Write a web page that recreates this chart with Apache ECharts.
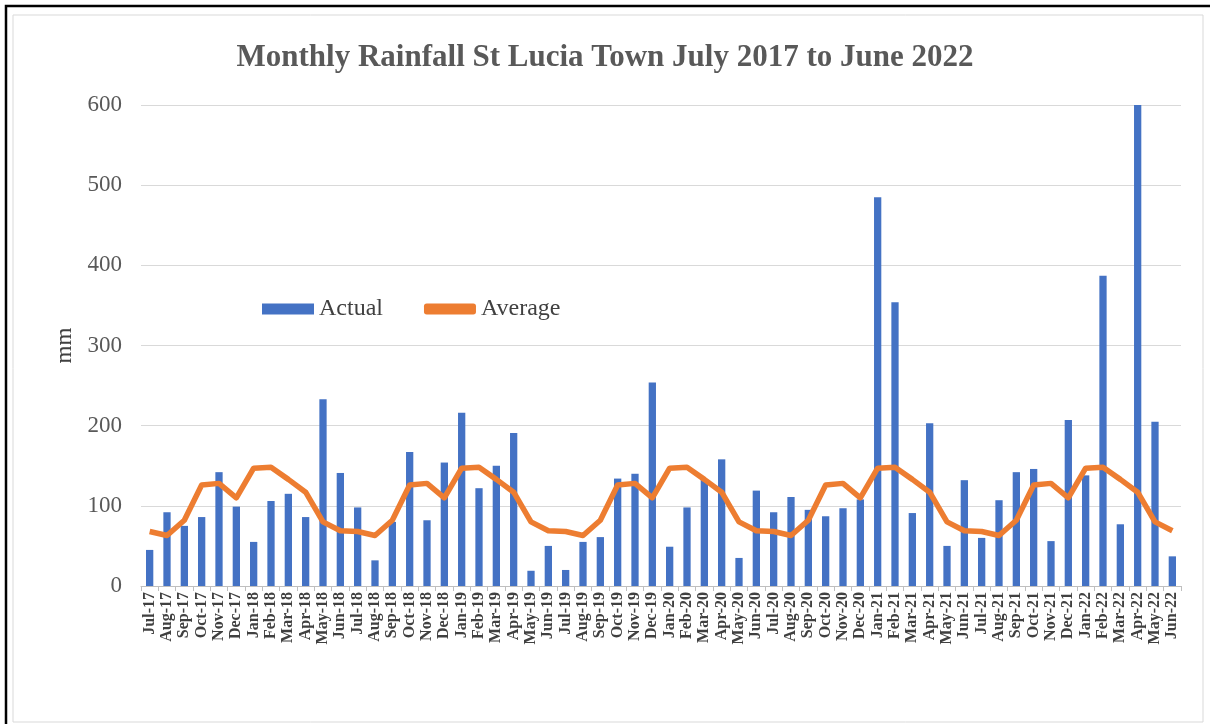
<!DOCTYPE html>
<html><head><meta charset="utf-8">
<script src="https://cdn.jsdelivr.net/npm/echarts@6/dist/echarts.min.js"></script>
<style>html,body{margin:0;padding:0;background:#fff}#c{width:1210px;height:724px}</style>
</head><body><div id="c"></div>
<script>
const categories = ["Jul-17","Aug-17","Sep-17","Oct-17","Nov-17","Dec-17","Jan-18","Feb-18","Mar-18","Apr-18","May-18","Jun-18",
"Jul-18","Aug-18","Sep-18","Oct-18","Nov-18","Dec-18","Jan-19","Feb-19","Mar-19","Apr-19","May-19","Jun-19",
"Jul-19","Aug-19","Sep-19","Oct-19","Nov-19","Dec-19","Jan-20","Feb-20","Mar-20","Apr-20","May-20","Jun-20",
"Jul-20","Aug-20","Sep-20","Oct-20","Nov-20","Dec-20","Jan-21","Feb-21","Mar-21","Apr-21","May-21","Jun-21",
"Jul-21","Aug-21","Sep-21","Oct-21","Nov-21","Dec-21","Jan-22","Feb-22","Mar-22","Apr-22","May-22","Jun-22"];
const actual = [45,92,75,86,142,99,55,106,115,86,233,141,
98,32,80,167,82,154,216,122,150,191,19,50,
20,55,61,134,140,254,49,98,133,158,35,119,
92,111,95,87,97,108,485,354,91,203,50,132,
60,107,142,146,56,207,138,387,77,601,205,37];
const average = [68,63,82,126,128,110,147,148,133,117,80,69,
68,63,82,126,128,110,147,148,133,117,80,69,
68,63,82,126,128,110,147,148,133,117,80,69,
68,63,82,126,128,110,147,148,133,117,80,69,
68,63,82,126,128,110,147,148,133,117,80,69];
const yTicks = {min:0, max:600, interval:100};

const chart = echarts.init(document.getElementById('c'));
chart.setOption({
  animation:false,
  backgroundColor:'#fff',
  graphic:[
    {type:'rect', shape:{x:6,y:6,width:1210,height:730}, style:{fill:'none',stroke:'#000',lineWidth:2.5}},
    {type:'rect', shape:{x:13,y:15,width:1190,height:707}, style:{fill:'none',stroke:'#d9d9d9',lineWidth:1}}
  ],
  title:{text:'Monthly Rainfall St Lucia Town July 2017 to June 2022', left:'center', top:37,
    textStyle:{fontFamily:'Liberation Serif', fontWeight:'bold', fontSize:31, color:'#595959'}},
  legend:{left:257, top:292, itemWidth:52, itemHeight:11, itemGap:41,
    textStyle:{fontFamily:'Liberation Serif', fontSize:24, color:'#404040'},
    data:[{name:'Actual', icon:'rect'},{name:'Average', icon:'roundRect'}]},
  grid:{left:141, right:29, top:105, bottom:138},
  xAxis:{type:'category', data:categories, boundaryGap:true,
    axisLine:{lineStyle:{color:'#bfbfbf'}},
    axisTick:{show:true, alignWithLabel:false, length:5, lineStyle:{color:'#bfbfbf'}},
    axisLabel:{interval:0, rotate:90, fontFamily:'Liberation Serif', fontWeight:'bold', fontSize:16, color:'#404040', margin:6}},
  yAxis:{type:'value', min:yTicks.min, max:yTicks.max, interval:yTicks.interval,
    name:'mm', nameLocation:'middle', nameGap:64, nameRotate:90,
    nameTextStyle:{fontFamily:'Liberation Serif', fontSize:23, color:'#404040'},
    axisLine:{show:false}, axisTick:{show:false},
    splitLine:{lineStyle:{color:'#d9d9d9'}},
    axisLabel:{fontFamily:'Liberation Serif', fontSize:23, color:'#595959', margin:19}},
  series:[
    {name:'Actual', type:'bar', data:actual, barWidth:'42%', itemStyle:{color:'#4472C4'}},
    {name:'Average', type:'line', data:average, symbol:'none', lineStyle:{color:'#ED7D31', width:5.5, join:'round'}, itemStyle:{color:'#ED7D31'}}
  ]
});
</script></body></html>
